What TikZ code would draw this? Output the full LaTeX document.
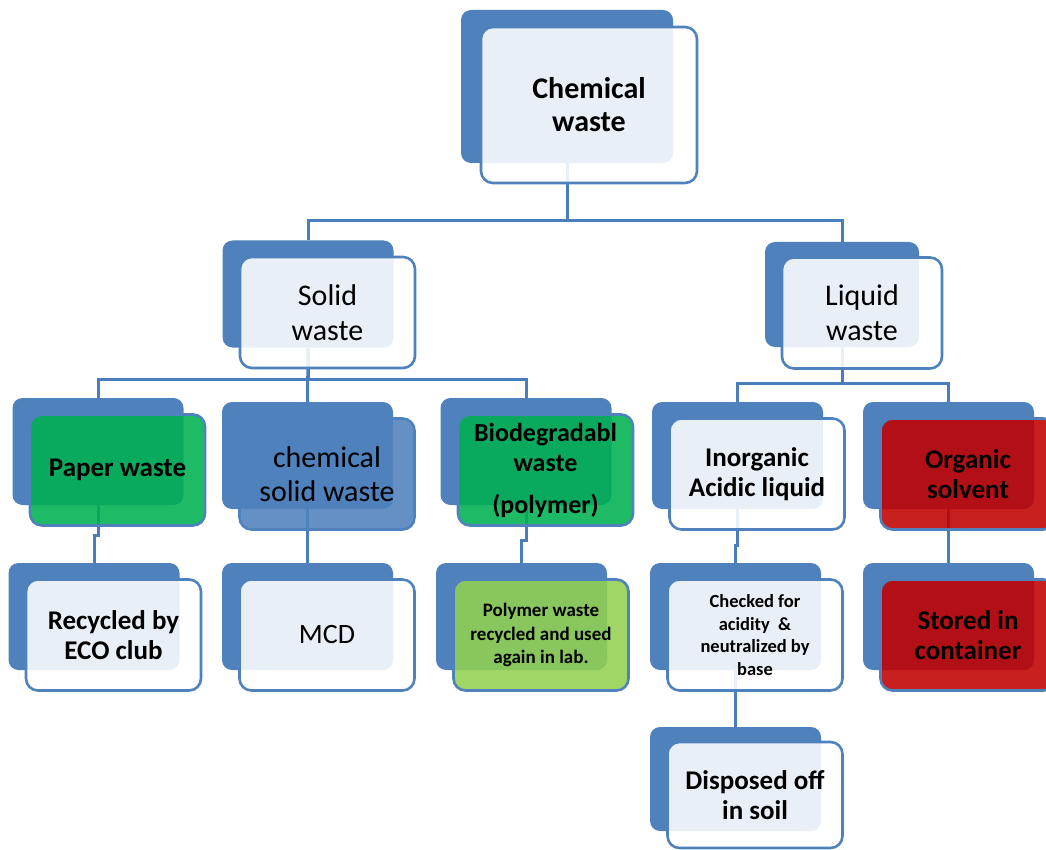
\documentclass[tikz,border=0pt]{standalone}
\usepackage{fontspec}
\setmainfont{Carlito}
\usepackage{tikz}
\usetikzlibrary{arrows,shapes}

\definecolor{wblue}{HTML}{4F81BD}
\definecolor{wline}{HTML}{4A7EBB}
\definecolor{wgreen}{HTML}{00B050}
\definecolor{wlight}{HTML}{92D050}
\definecolor{wred}{HTML}{C00000}

\pgfdeclarelayer{bg}
\pgfsetlayers{bg,main}

\begin{document}
\begin{tikzpicture}[x=1pt,y=-1pt,
    back/.style={rectangle,rounded corners=10pt,fill=wblue,inner sep=0pt,
        minimum width=171pt,minimum height=107pt},
    front/.style={rectangle,rounded corners=12pt,draw=wblue,line width=2.6pt,
        fill=white,fill opacity=.88,text opacity=1,align=center,inner sep=0pt,
        minimum width=175pt,minimum height=111pt,xshift=19.5pt,yshift=-18.5pt},
    link/.style={draw=wline,line width=3pt},
    big/.style={font=\fontsize{30}{35}\selectfont},
    bold/.style={font=\bfseries\fontsize{27}{30}\selectfont},
    small/.style={font=\bfseries\fontsize{19}{23.5}\selectfont}]
    \useasboundingbox (0,0) rectangle (1046,850);
    \clip (0,0) rectangle (1046,850);

    \node[back,minimum width=212pt,minimum height=153pt] (chemB) at (567,86.5) {};
    \node[back] (solidB) at (308,294) {};
    \node[back,minimum width=154pt,minimum height=105pt] (liquidB) at (842,294.5) {};
    \node[back] (paperB) at (98,451.5) {};
    \node[back] (csolidB) at (307.5,455.5) {};
    \node[back] (bioB) at (526,451.5) {};
    \node[back] (inorgB) at (737.5,455.5) {};
    \node[back] (orgB) at (948.5,455.5) {};
    \node[back] (recB) at (94,616.5) {};
    \node[back] (mcdB) at (307.5,616.5) {};
    \node[back] (polyB) at (521.5,616.5) {};
    \node[back] (checkB) at (735.5,616.5) {};
    \node[back] (storeB) at (948.5,616.5) {};
    \node[back,minimum height=104pt] (soilB) at (735.5,779) {};

    \node[front,minimum width=216pt,minimum height=156pt,xshift=2.5pt,
        font=\bfseries\fontsize{30}{33}\selectfont] (chem) at (chemB) {Chemical\\waste};
    \node[front,big] (solid) at (solidB) {Solid\\waste};
    \node[front,big,minimum width=160pt,xshift=.5pt] (liquid) at (liquidB) {Liquid\\waste};
    \node[front,fill=wgreen,font=\bfseries\fontsize{27}{30}\selectfont] (paper) at (paperB) {Paper waste};
    \node[front,fill=wblue,font=\fontsize{30}{34}\selectfont] (csolid) at (csolidB) {chemical\\solid waste};
    \node[front,fill=wgreen,font=\bfseries\fontsize{26}{30}\selectfont] (bio) at (bioB) {Biodegradabl\\waste\\[12pt](polymer)};
    \node[front,bold] (inorg) at (inorgB) {Inorganic\\Acidic liquid};
    \node[front,bold,fill=wred] (org) at (orgB) {Organic\\solvent};
    \node[front,bold] (rec) at (recB) {Recycled by\\ECO club};
    \node[front,font=\fontsize{28}{30}\selectfont] (mcd) at (mcdB) {MCD};
    \node[front,small,fill=wlight] (poly) at (polyB) {Polymer waste\\recycled and used\\again in lab.};
    \node[front,font=\bfseries\fontsize{18.5}{22.7}\selectfont] (check) at (checkB) {Checked for\\acidity\ \ \&\\neutralized by\\base};
    \node[front,bold,fill=wred] (store) at (storeB) {Stored in\\container};
    \node[front,bold,minimum height=106pt,yshift=2.5pt] (soil) at (soilB) {Disposed off\\in soil};

    \begin{pgfonlayer}{bg}
    \draw[link] (chemB) -- (chemB |- 0,221) -| (solidB);
    \draw[link] (chemB |- 0,221) -| (liquidB);
    \draw[link] (solidB) -- (solidB |- 0,379) -| (paperB);
    \draw[link] (solidB |- 0,379) -| (bioB);
    \draw[link] (solidB) -- (csolidB);
    \draw[link] (liquidB) -- (liquidB |- 0,383) -| (inorgB);
    \draw[link] (liquidB |- 0,383) -| (orgB);
    \draw[link] (paperB) -- (paperB |- 0,535) -| (recB);
    \draw[link] (csolidB) -- (mcdB);
    \draw[link] (bioB) -- (bioB |- 0,540) -| (polyB);
    \draw[link] (inorgB) -- (inorgB |- 0,545) -| (checkB);
    \draw[link] (orgB) -- (storeB);
    \draw[link] (checkB) -- (soilB);
    \end{pgfonlayer}
\end{tikzpicture}
\end{document}
